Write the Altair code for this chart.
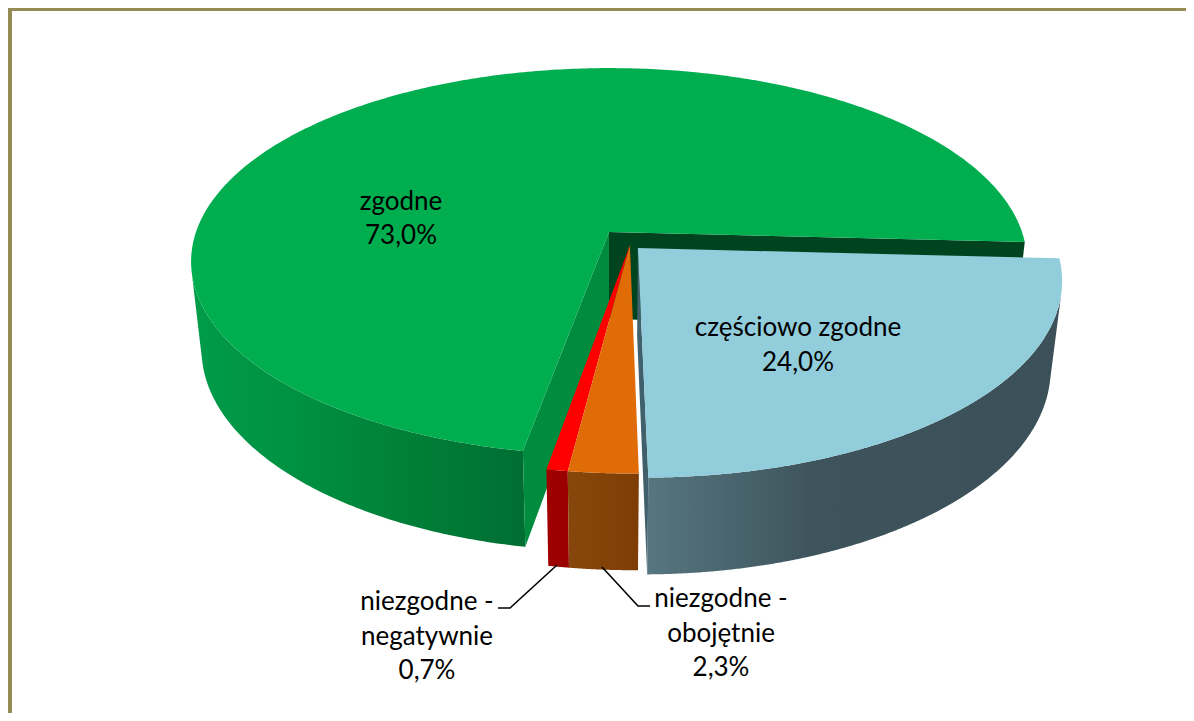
import numpy as np
import pandas as pd
import altair as alt

# ---- chart values -------------------------------------------------------
categories = ["częściowo zgodne", "niezgodne - obojętnie", "niezgodne - negatywnie", "zgodne"]
shares = [24.0, 2.3, 0.7, 73.0]
label_lines = [["częściowo zgodne"], ["niezgodne -", "obojętnie"], ["niezgodne -", "negatywnie"], ["zgodne"]]

# ---- styling ------------------------------------------------------------
top_colors = ["#92CDDC", "#E06C08", "#FF0000", "#00AE50"]
wall_stops = [
    [(0, "#567680"), (0.4, "#3E545C"), (1, "#3B5058")],
    [(0, "#87470C"), (1, "#7D3D04")],
    [(0, "#A00000"), (1, "#9A0000")],
    [(0, "#009C49"), (0.33, "#009042"), (0.63, "#008038"), (1, "#006E33")],
]
explode = [(0.069, 0.084), (0.05, 0.069), (0.05, 0.069), (0.0, 0.0)]
FRAME = "#948A54"
FONT = "Lato"
FS = 26

# ---- perspective of the pie ---------------------------------------------
START = 93.0
CX, CY, R, RC, K, M, D = 609, 232, 413, 189, 0.153, 0.025, 89.3


def project(u, v, z):
    w = 1 - K * v + M * z
    return CX + R * u / w, CY + (RC * v + D * z) / w


def arc(a0, a1, off, z, n=400):
    th = np.radians(np.linspace(a0, a1, n))
    return project(np.sin(th) + off[0], -np.cos(th) + off[1], z)


def visible_wall(a0, a1, off):
    """Outline of the part of the side wall that faces the viewer."""
    tx, ty = arc(a0, a1, off, 0)
    bx, by = arc(a0, a1, off, 1)
    dx, dy = np.gradient(tx), np.gradient(ty)
    # the wall is seen where the vertical edge turns away from the rim's inside
    cross = dx * (by - ty) - dy * (bx - tx)
    keep = cross < 0
    return np.r_[tx[keep], bx[keep][::-1]], np.r_[ty[keep], by[keep][::-1]]


def frame_of(xs, ys):
    return pd.DataFrame({"x": xs, "y": ys, "i": range(len(xs))})


X = alt.X("x:Q", axis=None, scale=alt.Scale(domain=[8, 1186], nice=False, zero=False))
Y = alt.Y("y:Q", axis=None, scale=alt.Scale(domain=[713, 8], nice=False, zero=False))


def polygon(xs, ys, **mark):
    return alt.Chart(frame_of(list(xs), list(ys))).mark_line(filled=True, **mark).encode(
        x=X, y=Y, order=alt.Order("i:Q")
    )


def gradient(stops):
    return alt.Gradient(
        gradient="linear", x1=0, x2=1, y1=0, y2=0,
        stops=[alt.GradientStop(offset=o, color=c) for o, c in stops],
    )


edges = START + np.concatenate([[0], np.cumsum(shares)]) * 3.6
layers = []

# frame
frame_rects = pd.DataFrame({"x": [8, 8], "x2": [12, 1186], "y": [8, 8], "y2": [713, 11]})
layers.append(
    alt.Chart(frame_rects).mark_rect(color=FRAME).encode(x=X, x2="x2:Q", y=Y, y2="y2:Q")
)

# green slice: side wall, cut faces, then top
idx = 3
a0, a1 = edges[idx], edges[idx + 1]
o = explode[idx]
tx, ty = arc(a0, a1, o, 0)
bx, by = arc(a0, a1, o, 1)
wx, wy = visible_wall(a0, a1, o)
layers.append(polygon(wx, wy, fill=gradient(wall_stops[idx])))
ax0, ay0 = project(o[0], o[1], 0)
ax1, ay1 = project(o[0], o[1], 1)
# the cut faces behind the exploded slices
layers.append(polygon([ax0, tx[-1], bx[-1], ax1], [ay0, ty[-1], by[-1], ay1], fill="#00431F"))
layers.append(polygon([ax0, tx[0], bx[0], ax1], [ay0, ty[0], by[0], ay1], fill="#008C3F"))
layers.append(polygon(np.r_[ax0, tx], np.r_[ay0, ty], fill=top_colors[idx]))

# exploded slices
for idx in [0, 2, 1]:
    a0, a1 = edges[idx], edges[idx + 1]
    o = explode[idx]
    tx, ty = arc(a0, a1, o, 0)
    bx, by = arc(a0, a1, o, 1)
    wx, wy = visible_wall(a0, a1, o)
    layers.append(polygon(wx, wy, fill=gradient(wall_stops[idx])))
    ax0, ay0 = project(o[0], o[1], 0)
    ax1, ay1 = project(o[0], o[1], 1)
    if idx == 0:
        layers.append(polygon([ax0, tx[-1], bx[-1], ax1], [ay0, ty[-1], by[-1], ay1], fill="#40606B"))
    layers.append(polygon(np.r_[ax0, tx], np.r_[ay0, ty], fill=top_colors[idx]))

# leader lines
leaders = pd.DataFrame({
    "x": [498, 510, 557, 650, 638, 602],
    "y": [608, 608, 565, 606, 606, 567],
    "g": ["a", "a", "a", "b", "b", "b"],
    "i": [0, 1, 2, 0, 1, 2],
})
layers.append(
    alt.Chart(leaders).mark_line(color="#000000", strokeWidth=1.6).encode(
        x=X, y=Y, detail="g:N", order=alt.Order("i:Q")
    )
)

# labels
anchors = [(798, 328), (721, 599), (427, 602), (401, 201.5)]
rows = []
for lines, share, (lx, ly) in zip(label_lines, shares, anchors):
    pct = f"{share:.1f}".replace(".", ",") + "%"
    for n, t in enumerate(lines + [pct]):
        rows.append({"x": lx, "y": ly + n * 34.5, "t": t})
layers.append(
    alt.Chart(pd.DataFrame(rows)).mark_text(
        font=FONT, fontSize=FS, color="#000000", align="center", baseline="middle"
    ).encode(x=X, y=Y, text="t:N")
)

chart = (
    alt.layer(*layers)
    .properties(width=1178, height=705, padding=0, autosize=alt.AutoSizeParams(type="none"), background="#FFFFFF")
    .configure_view(strokeWidth=0)
)
chart.save("out.html", embed_options={"renderer": "svg", "actions": False})
